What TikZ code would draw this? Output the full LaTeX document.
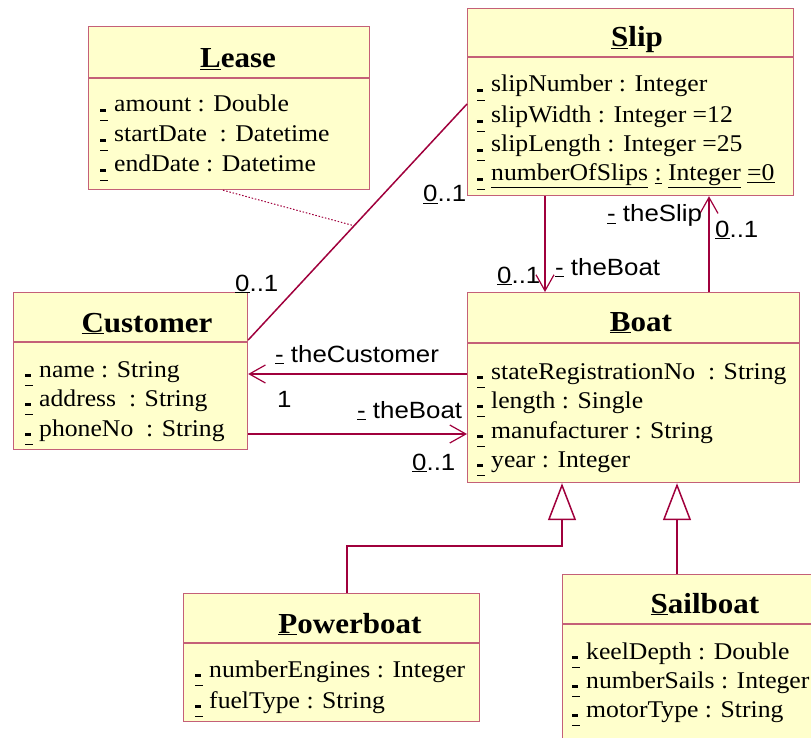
\documentclass[tikz,border=0pt]{standalone}
\usepackage{fontspec}
\setmainfont{Liberation Serif}[FakeStretch=1.07]
\setsansfont{Liberation Sans}[FakeStretch=1.1]
\usetikzlibrary{arrows.meta,calc}
\definecolor{boxfill}{RGB}{255,255,204}
\definecolor{boxline}{RGB}{196,96,120}
\definecolor{conn}{RGB}{160,0,60}
\newcommand\vm{\rlap{\rule[0pt]{6pt}{2.6pt}}\rlap{\rule[-9pt]{8pt}{1pt}}\hspace{14pt}}
\tikzset{
 cls/.style={draw=boxline, fill=boxfill, line width=1.2pt, anchor=north west, inner sep=0pt},
 hdr/.style={draw=boxline, line width=1.2pt},
 attr/.style={anchor=base west, inner sep=0pt, font=\fontsize{24}{28}\selectfont},
 ttl/.style={anchor=base, inner sep=0pt, font=\fontsize{29}{34}\selectfont\bfseries},
 lbl/.style={anchor=base west, inner sep=0pt, font=\sffamily\fontsize{23.5}{28}\selectfont},
 assoc/.style={draw=conn, line width=1.5pt},
 nav/.style={assoc, -{Straight Barb[length=16pt,width=18pt,line width=1.2pt]}},
 gen/.style={assoc, -{Triangle[open,length=37pt,width=28pt]}},
}
\begin{document}
\begin{tikzpicture}[x=1pt,y=-1pt]
\useasboundingbox (0,0) rectangle (811,738);
\clip (0,0) rectangle (811,738);
% boxes
\node[cls, minimum width=281pt, minimum height=163pt] (lease) at (88,26) {};
\draw[hdr] (lease.west |- 0,78) -- (lease.east |- 0,78);
\node[cls, minimum width=326pt, minimum height=187pt] (slip) at (467,8) {};
\draw[hdr] (slip.west |- 0,57) -- (slip.east |- 0,57);
\node[cls, minimum width=234pt, minimum height=157pt] (cust) at (13,292) {};
\draw[hdr] (cust.west |- 0,342) -- (cust.east |- 0,342);
\node[cls, minimum width=332pt, minimum height=190pt] (boat) at (467,292) {};
\draw[hdr] (boat.west |- 0,343) -- (boat.east |- 0,343);
\node[cls, minimum width=296pt, minimum height=128pt] (power) at (183,593) {};
\draw[hdr] (power.west |- 0,643) -- (power.east |- 0,643);
\node[cls, minimum width=280pt, minimum height=200pt] (sail) at (562,574) {};
\draw[hdr] (sail.west |- 0,624) -- (sail.east |- 0,624);
% titles
\node[ttl] (tLease) at (238,68) {\underline{L}ease};
\node[ttl] (tSlip) at (637,47) {\underline{S}lip};
\node[ttl] (tCust) at (147,332) {\underline{C}ustomer};
\node[ttl] (tBoat) at (641,331) {\underline{B}oat};
\node[ttl] (tPower) at (350,633) {\underline{P}owerboat};
\node[ttl] (tSail) at (705,613) {\underline{S}ailboat};
% attributes
\node[attr] (a1) at (100,112) {\vm amount : Double};
\node[attr] (a2) at (100,142) {\vm startDate \ : Datetime};
\node[attr] (a3) at (100,172) {\vm endDate : Datetime};
\node[attr] (b1) at (477,92) {\vm slipNumber : Integer};
\node[attr] (b2) at (477,123) {\vm slipWidth : Integer =12};
\node[attr] (b3) at (477,152) {\vm slipLength : Integer =25};
\node[attr] (b4) at (477,181) {\vm \underline{numberOfSlips} \underline{:} \underline{Integer} \underline{=}\underline{0}};
\node[attr] (c1) at (25,377) {\vm name : String};
\node[attr] (c2) at (25,406) {\vm address \ : String};
\node[attr] (c3) at (25,436) {\vm phoneNo \ : String};
\node[attr] (d1) at (477,379) {\vm stateRegistrationNo \ : String};
\node[attr] (d2) at (477,408) {\vm length : Single};
\node[attr] (d3) at (477,438) {\vm manufacturer : String};
\node[attr] (d4) at (477,467) {\vm year : Integer};
\node[attr] (e1) at (195,677) {\vm numberEngines : Integer};
\node[attr] (e2) at (195,708) {\vm fuelType : String};
\node[attr] (f1) at (572,659) {\vm keelDepth : Double};
\node[attr] (f2) at (572,688) {\vm numberSails : Integer};
\node[attr] (f3) at (572,717) {\vm motorType : String};
% connectors
\coordinate (cs1) at (cust.east |- 0,340);
\coordinate (cs2) at (slip.west |- 0,104);
\draw[assoc] (cs1) -- (cs2);
\coordinate (mid) at ($(cs1)!0.484!(cs2)$);
\draw[conn, line width=1pt, dash pattern=on 1.5pt off 1.8pt] (lease.south -| 223,0) -- (mid);
\draw[nav] (slip.south -| 545,0) -- (boat.north -| 545,0);
\draw[nav] (boat.north -| 709,0) -- (slip.south -| 709,0);
\draw[nav] (boat.west |- 0,374) -- (cust.east |- 0,374);
\draw[nav] (cust.east |- 0,434) -- (boat.west |- 0,434);
\draw[gen] (power.north -| 347,0) |- (562,546) -- (boat.south -| 562,0);
\draw[gen] (sail.north -| 677,0) -- (boat.south -| 677,0);
% labels
\node[lbl] (l1) at (235,291) {\underline{0}..1};
\node[lbl] (l2) at (423,202) {\underline{0}..1};
\node[lbl] (l3) at (497,283) {\underline{0}..1};
\node[lbl] (l4) at (555,275) {\underline{-} theBoat};
\node[lbl] (l5) at (607,222) {\underline{-} theSlip};
\node[lbl] (l6) at (715,237) {\underline{0}..1};
\node[lbl] (l7) at (275,362) {\underline{-} theCustomer};
\node[lbl] (l8) at (277,407) {1};
\node[lbl] (l9) at (357,418) {\underline{-} theBoat};
\node[lbl] (l10) at (412,470) {\underline{0}..1};
\end{tikzpicture}
\end{document}
